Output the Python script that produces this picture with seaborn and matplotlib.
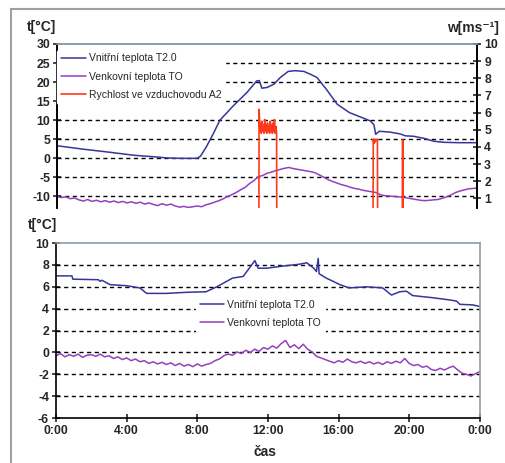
# Import relevant libraries
import numpy as np
import pandas as pd
import seaborn as sns
from matplotlib import pyplot as plt
from matplotlib.patches import Rectangle

# Values (time in hours)
### TOP PANEL ###
inner_top_t = [0, 1.5, 3.0, 4.4, 5.7, 6.3, 7.0, 8.0, 8.2, 8.55, 8.95, 9.3, 10.05, 10.85,
               11.4, 11.55, 11.7, 12.0, 12.4, 12.75, 13.2, 13.6, 14.1, 14.5, 14.85, 15.4,
               16.0, 16.7, 17.3, 17.9, 18.1, 18.2, 18.4, 19.0, 19.6, 19.9, 20.35, 21.0,
               21.5, 22.1, 23.0, 24.0]
inner_top_v = [3.3, 2.4, 1.6, 0.8, 0.35, 0.1, 0.0, 0.0, 0.6, 3.2, 6.7, 10.0, 13.7, 17.3,
               20.3, 20.4, 18.4, 18.6, 19.5, 21.2, 22.8, 23.0, 22.8, 22.0, 21.2, 18.0,
               14.2, 12.0, 10.9, 9.8, 8.8, 6.3, 7.1, 6.9, 6.4, 5.9, 5.8, 5.2,
               4.5, 4.2, 4.1, 4.1]

# outer temperature, every 15 minutes
outer_top_t = [i * 0.25 for i in range(97)]
outer_top_v = [-10.0, -10.3, -10.1, -10.6, -10.4, -10.9, -11.2, -10.8, -11.3, -11.0,
               -11.4, -11.1, -11.5, -11.2, -11.6, -11.3, -11.7, -11.4, -11.8, -11.5,
               -12.0, -11.7, -12.1, -12.4, -11.9, -12.3, -12.0, -12.5, -12.8, -12.6,
               -12.9, -12.7, -12.5, -12.7, -12.2, -11.9, -11.5, -11.1, -10.6, -10.0,
               -9.5, -8.9, -8.2, -7.6, -6.6, -5.8, -4.8, -4.5, -3.9, -3.6,
               -3.2, -2.9, -2.6, -2.4, -2.7, -2.9, -3.1, -3.3, -3.5, -3.8,
               -4.4, -5.0, -5.6, -6.1, -6.5, -6.9, -7.2, -7.6, -7.9, -8.1,
               -8.4, -8.6, -8.8, -9.0, -9.6, -9.8, -9.9, -10.0, -10.1, -10.2,
               -10.4, -10.6, -10.8, -11.0, -11.1, -11.0, -10.9, -10.8, -10.5, -10.1,
               -9.6, -9.0, -8.6, -8.3, -8.0, -7.9, -7.8]

# air speed in duct A2 (right axis)
speed_t = [0, 11.53, 11.54, 11.58, 11.62, 11.66, 11.7, 11.74, 11.78, 11.82, 11.86, 11.9,
           11.94, 11.98, 12.02, 12.06, 12.1, 12.14, 12.18, 12.22, 12.26, 12.3, 12.34,
           12.38, 12.42, 12.46, 12.5, 12.54, 12.55, 18.05, 18.06, 18.1, 18.14, 18.18,
           18.22, 18.26, 18.3, 18.31, 19.72, 19.73, 19.76, 19.77, 24]
speed_v = [0, 0, 6.2, 5.0, 5.4, 4.8, 5.5, 4.9, 5.3, 4.8, 5.6, 4.9,
           5.3, 4.8, 5.4, 4.9, 5.2, 4.8, 5.5, 4.9, 5.3, 4.8, 5.4,
           4.9, 5.6, 4.8, 5.2, 4.8, 0, 0, 4.45, 4.2, 4.45, 4.3,
           4.45, 4.4, 4.45, 0, 0, 4.4, 4.4, 0, 0]

### BOTTOM PANEL ###
inner_bot_t = [0, 0.9, 0.95, 2.4, 2.5, 2.6, 3.06, 4.0, 4.75, 5.13, 6.26, 7.4, 8.5, 9.1,
               10.0, 10.6, 11.17, 11.26, 11.45, 11.92, 12.87, 13.8, 14.2, 14.6, 14.75,
               14.85, 14.9, 15.3, 15.7, 16.08, 16.6, 17.6, 18.5, 19.0, 19.47, 19.85, 20.2,
               21.36, 22.3, 22.68, 22.87, 23.6, 24.0]
inner_bot_v = [7.0, 7.0, 6.7, 6.65, 6.5, 6.6, 6.2, 6.1, 5.9, 5.4, 5.4, 5.5, 5.55, 6.0,
               6.8, 6.95, 8.2, 8.4, 7.7, 7.7, 7.9, 8.07, 8.2, 7.7, 7.4,
               8.6, 7.2, 6.8, 6.5, 6.2, 5.9, 6.0, 5.9, 5.25, 5.55, 5.6, 5.2,
               5.0, 4.8, 4.7, 4.4, 4.35, 4.2]

outer_bot_t = [i * 0.25 for i in range(97)]
outer_bot_v = [-0.3, -0.1, -0.4, -0.2, -0.35, -0.15, -0.45, -0.25, -0.2, -0.35,
               -0.15, -0.4, -0.3, -0.55, -0.4, -0.65, -0.5, -0.75, -0.6, -0.85,
               -0.75, -1.0, -0.85, -1.05, -0.9, -1.1, -0.95, -1.2, -1.0, -1.25,
               -1.1, -1.3, -1.05, -1.25, -1.1, -1.0, -0.75, -0.6, -0.3, -0.15,
               -0.25, 0.05, -0.1, 0.2, 0.0, 0.3, 0.1, 0.45, 0.3, 0.6,
               0.4, 0.8, 1.1, 0.45, 0.7, 0.35, 0.75, 0.3, 0.05, -0.35,
               -0.5, -0.65, -0.8, -0.95, -0.75, -0.9, -0.6, -0.85, -0.95, -0.8,
               -1.0, -0.85, -1.05, -0.9, -1.1, -0.85, -1.0, -0.8, -0.95, -0.55,
               -1.0, -1.2, -1.1, -1.35, -1.25, -1.55, -1.65, -1.45, -1.6, -1.4,
               -1.25, -1.6, -1.9, -2.0, -2.15, -1.95, -1.75]

time_ticks = [0, 4, 8, 12, 16, 20, 24]
time_labels = ["0:00", "4:00", "8:00", "12:00", "16:00", "20:00", "0:00"]

# Names used in legend
name_inner = "Vnitřní teplota T2.0"
name_outer = "Venkovní teplota TO"
name_speed = "Rychlost ve vzduchovodu A2"

# Colors
c_inner = "#35359c"
c_outer = "#9440bf"
c_speed = "#ff3a1a"
c_frame = "#8c9cab"

sns.set_theme(style="white")
plt.rcParams['font.family'] = ['Liberation Sans', 'DejaVu Sans']
plt.rcParams['font.size'] = 8
plt.rcParams['axes.unicode_minus'] = False

fig = plt.figure(figsize=(5.05, 4.63), dpi=100)
# outer gray frame
fig.patches.append(Rectangle((0.022, -0.2), 1.2, 1.181, transform=fig.transFigure,
                             fill=False, edgecolor="#a0a0a0", linewidth=1.5))

ax1 = fig.add_axes([0.113, 0.551, 0.832, 0.354])
ax2 = ax1.twinx()
ax3 = fig.add_axes([0.111, 0.097, 0.839, 0.378])

# Build data frames
top_in = pd.DataFrame({'t': inner_top_t, 'v': inner_top_v})
top_out = pd.DataFrame({'t': outer_top_t, 'v': outer_top_v})
top_sp = pd.DataFrame({'t': speed_t, 'v': speed_v})
bot_in = pd.DataFrame({'t': inner_bot_t, 'v': inner_bot_v})
bot_out = pd.DataFrame({'t': outer_bot_t, 'v': outer_bot_v})

# dashed grid lines first
dash = (0, (3, 2.5))
for g in [25, 20, 15, 10, 5, 0, -5, -10]:
    ax1.axhline(g, color='black', linestyle=dash, linewidth=1.0, zorder=1)
for g in [8, 6, 4, 2, 0, -2, -4]:
    ax3.axhline(g, color='black', linestyle=dash, linewidth=1.0, zorder=1)

### TOP PANEL ###
sns.lineplot(x='t', y='v', data=top_in, ax=ax1, color=c_inner, linewidth=1.1,
             estimator=None, sort=False, label=name_inner, legend=False)
sns.lineplot(x='t', y='v', data=top_out, ax=ax1, color=c_outer, linewidth=1.1,
             estimator=None, sort=False, label=name_outer, legend=False)
sns.lineplot(x='t', y='v', data=top_sp, ax=ax2, color=c_speed, linewidth=1.2,
             estimator=None, sort=False, label=name_speed, legend=False)

ax1.set_xlim(0, 24)
ax1.set_ylim(-13, 30)
ax1.set_yticks(range(-10, 31, 5))
ax2.set_ylim(0.45, 10)
ax2.set_yticks(range(1, 11))
ax1.set_xticks([])
ax1.set_xlabel("")
ax1.set_ylabel("")
ax2.set_ylabel("")

for a in [ax1, ax2]:
    a.spines['bottom'].set_visible(False)
    a.spines['top'].set_color(c_frame)
    a.spines['left'].set_color('black')
    a.spines['right'].set_color('black')
    for s in a.spines.values():
        s.set_linewidth(1.2)
ax1.tick_params(axis='y', direction='inout', length=6, width=1.2, left=True,
                labelsize=8.8, pad=2)
ax2.tick_params(axis='y', direction='inout', length=6, width=1.2, right=True,
                labelsize=8.8, pad=2)
for lab in ax1.get_yticklabels() + ax2.get_yticklabels():
    lab.set_fontweight('bold')

h1, l1 = ax1.get_legend_handles_labels()
h2, l2 = ax2.get_legend_handles_labels()
leg = ax2.legend(h1 + h2, l1 + l2, loc='upper left', bbox_to_anchor=(0.0, 0.965),
                 frameon=True, fontsize=7.5, handlelength=2.4, handletextpad=0.3,
                 labelspacing=0.8, borderpad=0.35, borderaxespad=0.0)
leg.get_frame().set_edgecolor('white')
leg.get_frame().set_facecolor('white')
leg.get_frame().set_alpha(1)

### BOTTOM PANEL ###
sns.lineplot(x='t', y='v', data=bot_in, ax=ax3, color=c_inner, linewidth=1.1,
             estimator=None, sort=False, label=name_inner, legend=False)
sns.lineplot(x='t', y='v', data=bot_out, ax=ax3, color=c_outer, linewidth=1.1,
             estimator=None, sort=False, label=name_outer, legend=False)
ax3.set_xlim(0, 24)
ax3.set_ylim(-6, 10)
ax3.set_yticks(range(-6, 11, 2))
ax3.set_xticks(time_ticks)
ax3.set_xticklabels(time_labels)
ax3.set_xlabel("")
ax3.set_ylabel("")
ax3.spines['top'].set_color(c_frame)
ax3.spines['right'].set_color(c_frame)
ax3.spines['left'].set_color('black')
ax3.spines['bottom'].set_color('black')
for s in ax3.spines.values():
    s.set_linewidth(1.2)
ax3.tick_params(axis='both', direction='inout', length=6, width=1.2, left=True,
                bottom=True, labelsize=8.8, pad=2)
for lab in ax3.get_yticklabels() + ax3.get_xticklabels():
    lab.set_fontweight('bold')

leg2 = ax3.legend(loc='upper left', bbox_to_anchor=(0.318, 0.73), frameon=True,
                  fontsize=7.5, handlelength=2.3, handletextpad=0.3,
                  labelspacing=0.75, borderpad=0.4)
leg2.get_frame().set_edgecolor('white')
leg2.get_frame().set_facecolor('white')
leg2.get_frame().set_alpha(1)

# Axis titles as plain figure text
fig.text(0.053, 0.942, "t[°C]", fontsize=10, fontweight='bold', va='center')
fig.text(0.885, 0.94, "w[ms⁻¹]", fontsize=10, fontweight='bold', va='center')
fig.text(0.055, 0.514, "t[°C]", fontsize=10, fontweight='bold', va='center')
fig.text(0.525, 0.024, "čas", fontsize=10, fontweight='bold', va='center',
         ha='center')

plt.savefig("out.png", dpi=100)
